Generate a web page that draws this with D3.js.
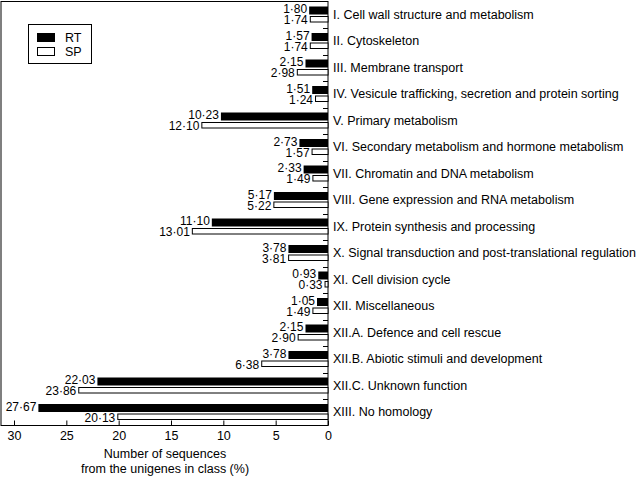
<!DOCTYPE html>
<html><head><meta charset="utf-8">
<script src="https://cdn.jsdelivr.net/npm/d3@7/dist/d3.min.js"></script>
<style>
html,body{margin:0;padding:0;background:#fff;}
text{font-family:"Liberation Sans",Arial,Helvetica,sans-serif;fill:#000;}
</style></head>
<body>
<svg id="chart" width="640" height="478"></svg>
<script>
const categories = [
  "I. Cell wall structure and metabolism",
  "II. Cytoskeleton",
  "III. Membrane transport",
  "IV. Vesicule trafficking, secretion and protein sorting",
  "V. Primary metabolism",
  "VI. Secondary metabolism and hormone metabolism",
  "VII. Chromatin and DNA metabolism",
  "VIII. Gene expression and RNA metabolism",
  "IX. Protein synthesis and processing",
  "X. Signal transduction and post-translational regulation",
  "XI. Cell division cycle",
  "XII. Miscellaneous",
  "XII.A. Defence and cell rescue",
  "XII.B. Abiotic stimuli and development",
  "XII.C. Unknown function",
  "XIII. No homology"
];
const rtValues = [1.80,1.57,2.15,1.51,10.23,2.73,2.33,5.17,11.10,3.78,0.93,1.05,2.15,3.78,22.03,27.67];
const spValues = [1.74,1.74,2.98,1.24,12.10,1.57,1.49,5.22,13.01,3.81,0.33,1.49,2.90,6.38,23.86,20.13];
const xTicks = [30,25,20,15,10,5,0];
const seriesNames = ["RT","SP"];
const axisTitle = ["Number of sequences","from the unigenes in class (%)"];

(function(){
const svg = d3.select("#chart");
const pLeft = 1, pRight = 328, pTop = 1.5, pBottom = 425.5;
const x = d3.scaleLinear().domain([30,0]).range([14,328]);
const y = d3.scaleBand().domain(categories).range([pTop,pBottom]).padding(0);
const fmt = v => v.toFixed(2).replace(".", "\u00B7");
const fs = 12.5, vfs = 12;

// frame
svg.append("rect").attr("x",pLeft).attr("y",pTop).attr("width",pRight-pLeft).attr("height",pBottom-pTop)
  .attr("fill","none").attr("stroke","#000").attr("stroke-width",1);

// x axis
const xAxis = d3.axisBottom(x).tickValues(xTicks).tickSizeInner(-5).tickSizeOuter(0).tickPadding(6).tickFormat(d3.format("d"));
const gx = svg.append("g").attr("transform",`translate(0,${pBottom})`).call(xAxis);
gx.select(".domain").remove();
gx.selectAll("text").attr("font-size",fs).style("font-family","'Liberation Sans',Arial,sans-serif");
gx.selectAll("line").attr("stroke","#000");

// right axis ticks at band boundaries
svg.append("g").selectAll("line").data(categories.slice(1)).join("line")
  .attr("x1",pRight-5).attr("x2",pRight)
  .attr("y1",d=>Math.round(y(d))+0.5).attr("y2",d=>Math.round(y(d))+0.5)
  .attr("stroke","#000");

const rows = categories.map((c,i)=>({c, rt: rtValues[i], sp: spValues[i], cy: y(c)+y.bandwidth()/2}));

// RT bars
svg.append("g").selectAll("rect").data(rows).join("rect")
  .attr("x",d=>x(d.rt)).attr("y",d=>d.cy-8.25).attr("width",d=>x(0)-x(d.rt)).attr("height",8)
  .attr("fill","#000");
// SP bars
svg.append("g").selectAll("rect").data(rows).join("rect")
  .attr("x",d=>x(d.sp)+0.5).attr("y",d=>d.cy+1.75).attr("width",d=>x(0)-x(d.sp)-0.5).attr("height",5.5)
  .attr("fill","#fff").attr("stroke","#000").attr("stroke-width",1);

// value labels
svg.append("g").selectAll("text").data(rows).join("text")
  .attr("x",d=>x(d.rt)-2).attr("y",d=>d.cy-1.5).attr("text-anchor","end").attr("font-size",vfs)
  .text(d=>fmt(d.rt));
svg.append("g").selectAll("text").data(rows).join("text")
  .attr("x",d=>x(d.sp)-2).attr("y",d=>d.cy+9.5).attr("text-anchor","end").attr("font-size",vfs)
  .text(d=>fmt(d.sp));

// category labels
svg.append("g").selectAll("text").data(rows).join("text")
  .attr("x",333).attr("y",d=>d.cy+4).attr("font-size",fs).text(d=>d.c);

// legend
const lg = svg.append("g");
lg.append("rect").attr("x",28.5).attr("y",24.5).attr("width",63).attr("height",39).attr("fill","#fff").attr("stroke","#000");
lg.append("rect").attr("x",37).attr("y",33).attr("width",18).attr("height",9).attr("fill","#000");
lg.append("rect").attr("x",37.5).attr("y",47.5).attr("width",17).attr("height",8).attr("fill","#fff").attr("stroke","#000");
lg.append("text").attr("x",65).attr("y",42).attr("font-size",fs).text(seriesNames[0]);
lg.append("text").attr("x",65).attr("y",56).attr("font-size",fs).text(seriesNames[1]);

// axis title
svg.append("g").selectAll("text").data(axisTitle).join("text")
  .attr("x",165).attr("y",(d,i)=>458+i*15).attr("text-anchor","middle").attr("font-size",fs).text(d=>d);
})();
</script>
</body></html>
